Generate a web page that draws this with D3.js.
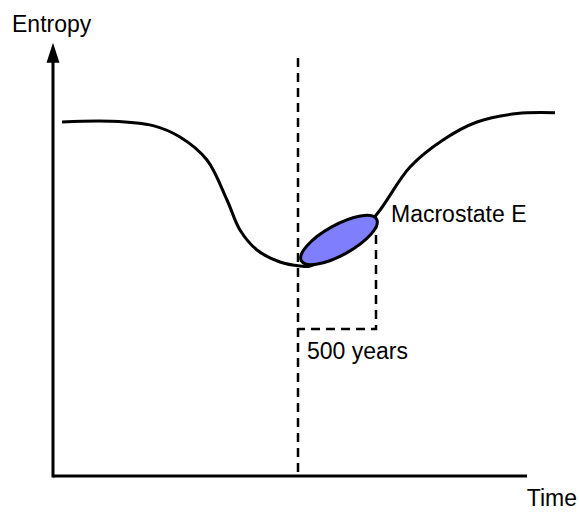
<!DOCTYPE html>
<html>
<head>
<meta charset="utf-8">
<script src="https://cdn.jsdelivr.net/npm/d3@7"></script>
<style>
  body { margin: 0; background: #fff; }
  text { font-family: "Liberation Sans", Arial, Helvetica, sans-serif; font-size: 23px; fill: #000; }
  .curve { fill: none; stroke: #000; stroke-width: 3; }
  .axis { fill: none; stroke: #000; stroke-width: 3; }
  .dash { fill: none; stroke: #000; stroke-width: 2.5; stroke-dasharray: 9,6; }
  .state { fill: #7f7ffd; stroke: #000; stroke-width: 3; }
</style>
</head>
<body>
<script>
// Entropy over time (schematic units)
var curveTime    = [0.18, 1.14, 2.0, 2.54, 3.08, 3.48, 3.74, 4.08, 4.54, 4.94, 5.14, 5.9, 6.48, 7.14, 7.8, 8.48, 9.28, 10.04];
var curveEntropy = [8.85, 8.87, 8.76, 8.475, 7.9, 6.9, 6.15, 5.65, 5.35, 5.25, 5.25, 5.8, 6.55, 7.725, 8.4, 8.85, 9.06, 9.08];

var markerTime = 4.9;          // dashed vertical line
var macroState = {t: 5.72, e: 5.9, label: "Macrostate E"};
var spanEnd = 6.46;            // end of the 500 year span
var spanEntropy = 3.675;       // level of the bracket
var spanLabel = "500 years";
var axisLabels = {y: "Entropy", x: "Time"};

var width = 579, height = 512;

var x = d3.scaleLinear().domain([0, 10]).range([53, 553]);
var y = d3.scaleLinear().domain([0, 10]).range([476, 76]);

var svg = d3.select("body").append("svg")
    .attr("width", width)
    .attr("height", height);

// axes
svg.append("path")
    .attr("class", "axis")
    .attr("d", "M" + x(0) + "," + y(0) + "H" + x(9.48));

svg.append("path")
    .attr("class", "axis")
    .attr("d", "M" + x(0) + "," + (y(0) + 1.5) + "V" + y(10.4));

svg.append("path")
    .attr("d", "M" + x(0) + "," + y(10.83) + "L" + (x(0) + 6.5) + "," + y(10.33) + "L" + (x(0) - 6.5) + "," + y(10.33) + "Z")
    .attr("fill", "#000");

svg.append("text")
    .attr("x", 12)
    .attr("y", 32)
    .text(axisLabels.y);

svg.append("text")
    .attr("x", 577)
    .attr("y", 506)
    .style("text-anchor", "end")
    .text(axisLabels.x);

// dashed guides
svg.append("path")
    .attr("class", "dash")
    .attr("d", "M" + x(markerTime) + "," + y(10.45) + "V" + y(0));

svg.append("path")
    .attr("class", "dash")
    .attr("d", "M" + x(spanEnd) + "," + y(6.4) + "V" + y(spanEntropy) + "H" + x(markerTime));

// entropy curve
var line = d3.line()
    .x(function(d, i) { return x(curveTime[i]); })
    .y(function(d, i) { return y(curveEntropy[i]); })
    .curve(d3.curveCatmullRom.alpha(0.5));

svg.append("path")
    .attr("class", "curve")
    .attr("d", line(curveTime));

// macrostate blob
svg.append("ellipse")
    .attr("class", "state")
    .attr("rx", 43)
    .attr("ry", 15)
    .attr("transform", "translate(" + x(macroState.t) + "," + y(macroState.e) + ") rotate(-29)");

svg.append("text")
    .attr("x", 391)
    .attr("y", 222)
    .text(macroState.label);

svg.append("text")
    .attr("x", 307)
    .attr("y", 359)
    .text(spanLabel);
</script>
</body>
</html>
